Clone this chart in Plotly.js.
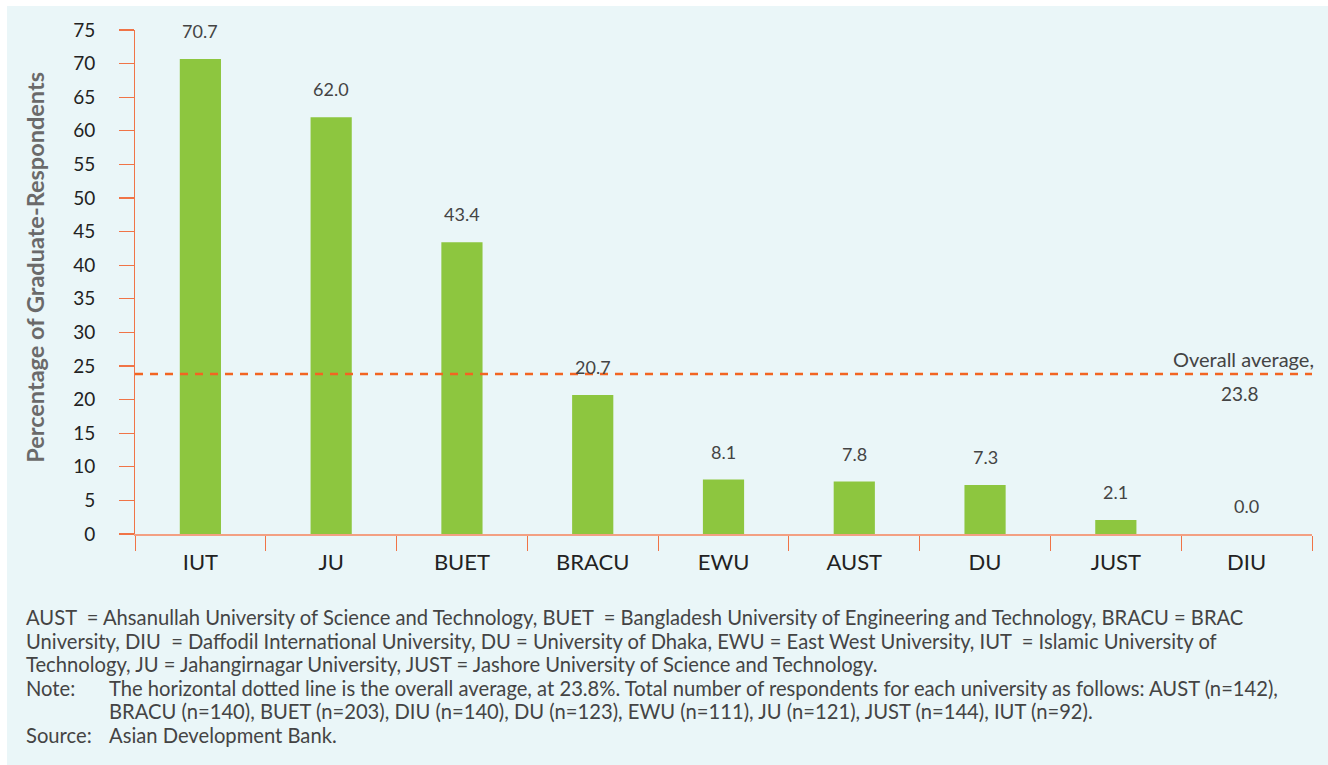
<!DOCTYPE html>
<html>
<head>
<meta charset="utf-8">
<script src="https://cdn.plot.ly/plotly-3.0.1.min.js"></script>
<style>
html,body{margin:0;padding:0;background:#ffffff;width:1328px;height:765px;overflow:hidden;}
#chart{position:absolute;left:7px;top:6px;width:1321px;height:759px;}
</style>
</head>
<body>
<div id="chart"></div>
<script>
const categories = ["IUT","JU","BUET","BRACU","EWU","AUST","DU","JUST","DIU"];
const values = [70.7, 62.0, 43.4, 20.7, 8.1, 7.8, 7.3, 2.1, 0.0];
const overallAverage = 23.8;
const yTicks = [0,5,10,15,20,25,30,35,40,45,50,55,60,65,70,75];
const notes = [
  {label:"", text:"AUST  = Ahsanullah University of Science and Technology, BUET  = Bangladesh University of Engineering and Technology, BRACU = BRAC"},
  {label:"", text:"University, DIU  = Daffodil International University, DU = University of Dhaka, EWU = East West University, IUT  = Islamic University of"},
  {label:"", text:"Technology, JU = Jahangirnagar University, JUST = Jashore University of Science and Technology."},
  {label:"Note:", text:"The horizontal dotted line is the overall average, at 23.8%. Total number of respondents for each university as follows: AUST (n=142),"},
  {label:"", text:"BRACU (n=140), BUET (n=203), DIU (n=140), DU (n=123), EWU (n=111), JU (n=121), JUST (n=144), IUT (n=92)."},
  {label:"Source:", text:"Asian Development Bank."}
];

const FONT = "Lato, 'Open Sans', sans-serif";
const textColor = "#444444";
const orange = "#f07447";

const trace = {
  type: "bar",
  x: categories,
  y: values,
  marker: {color: "#8dc63f"},
  hoverinfo: "x+y"
};

const annotations = [];
categories.forEach((c, i) => {
  annotations.push({
    x: c, y: values[i], xref: "x", yref: "y",
    text: values[i].toFixed(1), showarrow: false,
    yanchor: "bottom", yshift: 15,
    font: {family: FONT, size: 18, color: textColor}
  });
});
annotations.push({
  xref: "paper", yref: "y", x: 1.003, y: overallAverage, xanchor: "right", yanchor: "bottom", yshift: 1,
  text: "Overall average,", showarrow: false, font: {family: FONT, size: 20, color: textColor}
});
annotations.push({
  xref: "paper", yref: "y", x: 0.939, y: overallAverage, xanchor: "center", yanchor: "top", yshift: -6,
  text: overallAverage.toFixed(1), showarrow: false, font: {family: FONT, size: 19, color: textColor}
});
annotations.push({
  xref: "paper", yref: "paper", x: -0.085, y: 0.53, xanchor: "center", yanchor: "middle",
  text: "<b>Percentage of Graduate-Respondents</b>", textangle: -90, showarrow: false,
  font: {family: FONT, size: 23.5, color: "#6a6a6a"}
});

// footnotes, positioned in pixels below the plot area
const plotTop = 24, plotH = 504;
const noteStartY = 617, lineH = 23.5;
notes.forEach((n, i) => {
  const py = noteStartY + i * lineH - 6;
  const yp = 1 - (py - plotTop) / plotH;
  if (n.label) {
    annotations.push({
      xref: "paper", yref: "paper", x: (24 - 135) / 1177, y: yp, xanchor: "left", yanchor: "middle",
      text: n.label, showarrow: false, font: {family: FONT, size: 20.2, color: textColor}
    });
  }
  const xStart = (n.label || i === 4) ? 107 : 24;
  annotations.push({
    xref: "paper", yref: "paper", x: (xStart - 135) / 1177, y: yp, xanchor: "left", yanchor: "middle",
    text: n.text, showarrow: false, font: {family: FONT, size: 20.2, color: textColor}
  });
});

const layout = {
  width: 1321, height: 759,
  paper_bgcolor: "#eaf6f8",
  plot_bgcolor: "rgba(0,0,0,0)",
  margin: {l: 128, r: 16, t: 24, b: 231},
  showlegend: false,
  bargap: 0.685,
  font: {family: FONT, color: "#222222"},
  xaxis: {
    type: "category",
    range: [-0.5, categories.length - 0.5],
    showline: true, linecolor: "#f3a083", linewidth: 2,
    ticks: "outside", tickson: "boundaries", ticklen: 15, tickcolor: orange, tickwidth: 1,
    ticklabelstandoff: 8,
    tickfont: {family: FONT, size: 22, color: "#222222"},
    showgrid: false, zeroline: false, fixedrange: true
  },
  yaxis: {
    range: [0, 75],
    tickvals: yTicks,
    showline: true, linecolor: orange, linewidth: 1,
    ticks: "outside", ticklen: 15, tickcolor: orange, tickwidth: 1.2,
    ticklabelstandoff: 20,
    tickfont: {family: FONT, size: 19, color: "#222222"},
    showgrid: false, zeroline: false, fixedrange: true
  },
  shapes: [{
    type: "line", xref: "paper", yref: "y", x0: 0, x1: 1, y0: overallAverage, y1: overallAverage,
    line: {color: "#f26522", width: 2.5, dash: "8px,7px"}, layer: "above"
  }],
  annotations: annotations
};

Plotly.newPlot("chart", [trace], layout, {displayModeBar: false, staticPlot: true});
</script>
</body>
</html>
